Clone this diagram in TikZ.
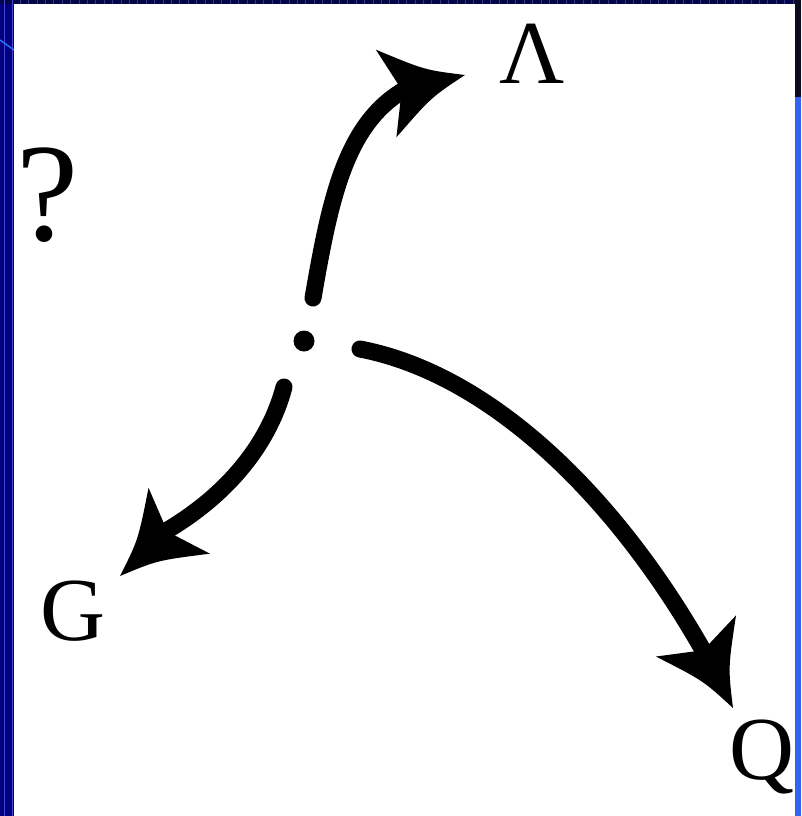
\documentclass[tikz,border=0pt]{standalone}
\usepackage{fontspec}
\setmainfont{Liberation Serif}
\definecolor{navyA}{RGB}{0,0,128}
\definecolor{navyTop}{RGB}{4,6,70}
\definecolor{stripL}{RGB}{70,70,200}
\definecolor{tickC}{RGB}{50,55,140}
\definecolor{darkR}{RGB}{10,12,30}
\definecolor{blueR}{RGB}{50,100,240}
\definecolor{diagC}{RGB}{40,110,255}
\begin{document}
\begin{tikzpicture}[x=1pt,y=-1pt,
  shaft/.style={line width=17pt,line cap=round,draw=black},
  lbl/.style={inner sep=0pt,anchor=base,font=\fontsize{90}{90}\selectfont},
  ahead/.pic={\fill[black] (0,0) .. controls (-38,14) .. (-81,45) -- (-65,0) -- (-81,-45) .. controls (-38,-14) .. (0,0) -- cycle;}]
\useasboundingbox (0,0) rectangle (801,816);
% background frame
\fill[navyA] (0,0) rectangle (801,816);
\fill[navyTop] (0,0) rectangle (801,4);
\foreach \i in {0,...,92} {\draw[tickC,line width=0.6pt] (20+8.4*\i,0) -- (20+8.4*\i,4);}
\draw[stripL,line width=0.8pt] (4.5,0) -- (4.5,816);
\draw[stripL,line width=0.8pt] (12,0) -- (12,816);
\draw[diagC,line width=1.5pt] (0,40) -- (14,50);
\fill[white] (14,4) rectangle (795,816);
\fill[darkR] (795,0) rectangle (801,97);
\fill[blueR] (795,97) rectangle (801,816);
% labels
\node[lbl] (lam) at (532.5,83) {Λ};
\node[lbl] (g) at (72.7,640) {G};
\node[lbl] (q) at (761.5,779) {Q};
\node[inner sep=0pt,anchor=base,font=\fontsize{140}{140}\selectfont] (qm) at (48,240) {?};
% centre dot
\node[circle,fill=black,minimum size=21pt,inner sep=0pt] (dot) at (304,341) {};
% arrow to Lambda
\coordinate (lamS) at (313,298);
\coordinate (lamE) at (404,90);
\coordinate (lamT) at (465,75);
\draw[shaft] (lamS) .. controls (330,200) and (345,125) .. (lamE);
\pic[rotate=13.2] at (lamT) {ahead};
% arrow to G
\coordinate (gS) at (284,387);
\coordinate (gE) at (166,531);
\coordinate (gT) at (120,576);
\draw[shaft] (gS) .. controls (270,440) and (232,492) .. (gE);
\pic[rotate=223] at (gT) {ahead};
% arrow to Q
\coordinate (qS) at (360,349);
\coordinate (qE) at (704,652);
\coordinate (qT) at (733,708);
\draw[shaft] (qS) .. controls (490,374) and (615,495) .. (qE);
\pic[rotate=-62.8] at (qT) {ahead};
\end{tikzpicture}
\end{document}
